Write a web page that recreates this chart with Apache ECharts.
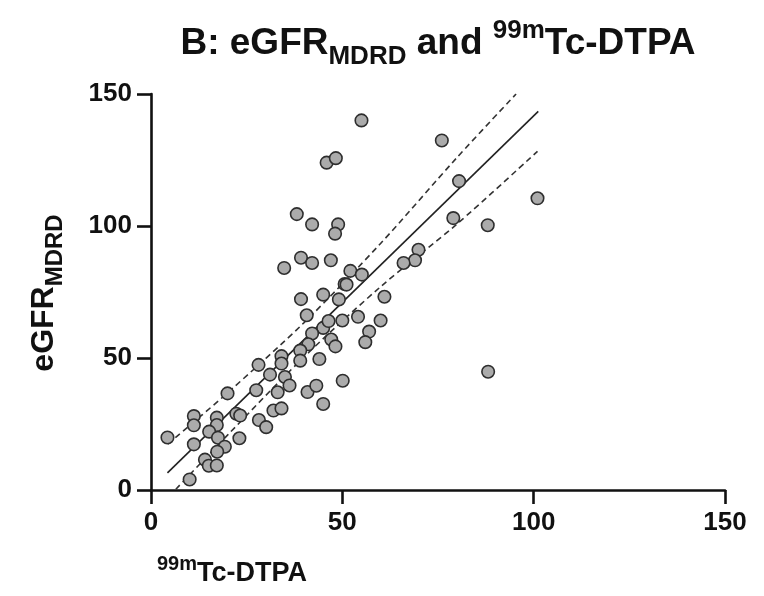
<!DOCTYPE html>
<html><head><meta charset="utf-8">
<script src="https://cdn.jsdelivr.net/npm/echarts@6/dist/echarts.min.js"></script>
<style>html,body{margin:0;padding:0;background:#fff}#c{width:764px;height:596px}</style>
</head><body><div id="c"></div>
<script>
// ---- data ----
const xTicks = [0, 50, 100, 150];
const yTicks = [0, 50, 100, 150];
const dtpa = [55.0,76.0,45.9,48.3,38.1,42.1,48.9,48.1,80.5,79.0,88.0,101.0,88.1,69.9,69.0,66.0,34.8,39.2,42.1,47.0,
  52.1,55.1,50.6,51.1,39.2,45.0,49.1,61.0,40.7,54.1,50.0,60.0,57.0,56.0,45.0,46.4,42.1,47.1,48.2,41.1,
  39.0,39.0,44.0,34.1,34.1,28.1,31.1,35.0,36.2,33.1,27.5,20.0,40.9,43.2,50.1,45.0,32.0,34.1,28.2,30.1,
  22.3,23.3,23.1,11.2,11.2,4.3,11.2,17.2,17.2,15.2,17.5,19.3,17.3,14.1,15.1,17.2,10.1];
const egfr = [140.0,132.4,124.0,125.7,104.5,100.6,100.6,97.1,117.0,103.0,100.3,110.5,44.8,91.0,87.0,86.0,84.1,88.0,86.0,87.0,
  83.0,81.6,78.0,77.8,72.3,74.0,72.2,73.2,66.2,65.6,64.2,64.2,60.0,56.0,61.4,64.0,59.3,57.0,54.4,55.2,
  52.8,49.0,49.6,50.7,47.9,47.4,43.7,42.8,39.6,37.0,37.8,36.6,37.1,39.5,41.4,32.6,30.1,30.9,26.5,23.8,
  28.9,28.2,19.6,28.0,24.5,19.9,17.3,27.4,24.6,22.1,19.8,16.4,14.5,11.5,9.2,9.3,4.0];
const fitX = [4.3, 101.2];
const fitY = [6.5, 143.4];
const upperX = [4.4, 20, 40, 60, 80, 95.4];
const upperY = [17.4, 36.8, 63.4, 93.4, 126.0, 150.0];
const lowerX = [6.5, 20, 40, 60, 80, 101.0];
const lowerY = [0.3, 20.8, 50.4, 77.0, 100.8, 128.3];

const zip = (a, b) => a.map((v, i) => [v, b[i]]);
const FONT = "'Liberation Sans', Arial, Helvetica, sans-serif";

const chart = echarts.init(document.getElementById('c'), null, {renderer: 'canvas'});
const axisCommon = {
  type: 'value', min: 0, max: 150, interval: 50,
  axisLine: {show: true, onZero: false, lineStyle: {color: '#111', width: 2.6}},
  axisTick: {show: true, length: 14, lineStyle: {color: '#111', width: 2.6}},
  splitLine: {show: false},
  axisLabel: {fontFamily: FONT, fontWeight: 'bold', fontSize: 26, color: '#111'}
};
chart.setOption({
  animation: false,
  backgroundColor: '#fff',
  grid: {left: 151, right: 39, top: 94, bottom: 106, containLabel: false, outerBoundsMode: 'none'},
  xAxis: Object.assign({}, axisCommon, {
    axisLabel: Object.assign({}, axisCommon.axisLabel, {margin: 20,
      formatter: v => xTicks.includes(v) ? String(v) : ''})
  }),
  yAxis: Object.assign({}, axisCommon, {
    axisLabel: Object.assign({}, axisCommon.axisLabel, {margin: 19,
      formatter: v => yTicks.includes(v) ? String(v) : ''})
  }),
  graphic: [
    {type: 'text', x: 438, y: 44, style: {
      text: '{m|B: eGFR}{sub|MDRD}{m| and }{sup|99m}{m|Tc-DTPA}',
      align: 'center', verticalAlign: 'middle',
      rich: {
        m: {fontFamily: FONT, fontWeight: 'bold', fontSize: 37, lineHeight: 52, fill: '#111'},
        sub: {fontFamily: FONT, fontWeight: 'bold', fontSize: 26, lineHeight: 30, verticalAlign: 'bottom', fill: '#111'},
        sup: {fontFamily: FONT, fontWeight: 'bold', fontSize: 26, lineHeight: 35, verticalAlign: 'top', fill: '#111'}
      }
    }},
    {type: 'text', x: 44, y: 293, rotation: Math.PI / 2, style: {
      text: '{m|eGFR}{sub|MDRD}',
      align: 'center', verticalAlign: 'middle',
      rich: {
        m: {fontFamily: FONT, fontWeight: 'bold', fontSize: 32, lineHeight: 46, fill: '#111'},
        sub: {fontFamily: FONT, fontWeight: 'bold', fontSize: 24, lineHeight: 28, verticalAlign: 'bottom', fill: '#111'}
      }
    }},
    {type: 'text', x: 157, y: 574, style: {
      text: '{sup|99m}{m|Tc-DTPA}',
      align: 'left', verticalAlign: 'middle',
      rich: {
        m: {fontFamily: FONT, fontWeight: 'bold', fontSize: 27, lineHeight: 40, fill: '#111'},
        sup: {fontFamily: FONT, fontWeight: 'bold', fontSize: 20, lineHeight: 28, verticalAlign: 'top', fill: '#111'}
      }
    }}
  ],
  series: [
    {type: 'line', data: zip(upperX, upperY), smooth: 0.3, showSymbol: false, z: 2,
      lineStyle: {color: '#333', width: 1.6, type: [6, 4]}},
    {type: 'line', data: zip(lowerX, lowerY), smooth: 0.3, showSymbol: false, z: 2,
      lineStyle: {color: '#333', width: 1.6, type: [6, 4]}},
    {type: 'line', data: zip(fitX, fitY), showSymbol: false, z: 2,
      lineStyle: {color: '#222', width: 1.6}},
    {type: 'scatter', data: zip(dtpa, egfr), symbolSize: 12.5, z: 3,
      itemStyle: {color: '#ababab', borderColor: '#2e2e2e', borderWidth: 1.6, opacity: 1}}
  ]
});
</script></body></html>
